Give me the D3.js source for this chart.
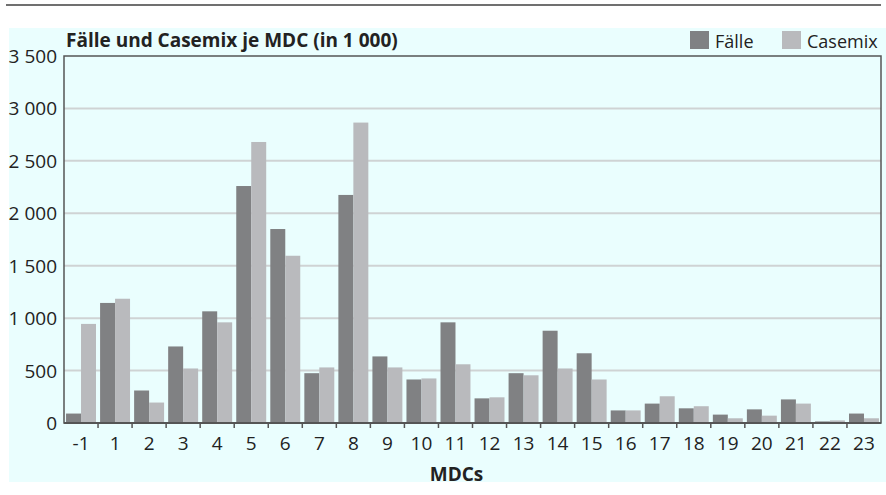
<!DOCTYPE html>
<html>
<head>
<meta charset="utf-8">
<script src="https://cdn.jsdelivr.net/npm/d3@7"></script>
<style>
  html, body { margin: 0; padding: 0; background: #ffffff; }
  svg { display: block; }
  text { font-family: "Open Sans", "Noto Sans", sans-serif; fill: #222; }
</style>
</head>
<body>
<svg id="chart" width="886" height="495"></svg>
<script>
const categories = ["-1","1","2","3","4","5","6","7","8","9","10","11","12","13","14","15","16","17","18","19","20","21","22","23"];
const faelle  = [90, 1145, 310, 730, 1065, 2260, 1850, 475, 2175, 635, 415, 960, 235, 475, 880, 665, 120, 185, 140, 80, 130, 225, 15, 90];
const casemix = [945, 1185, 195, 520, 960, 2680, 1595, 530, 2865, 530, 425, 560, 245, 455, 520, 415, 120, 255, 160, 45, 70, 185, 25, 45];
const seriesNames = ["Fälle", "Casemix"];
const yTicks = [0, 500, 1000, 1500, 2000, 2500, 3000, 3500];
const title = "Fälle und Casemix je MDC (in 1 000)";
const xTitle = "MDCs";

const colors = ["#808183", "#b9babd"];
const svg = d3.select("#chart");

// panel background
svg.append("rect").attr("x", 9).attr("y", 28).attr("width", 877).attr("height", 454).attr("fill", "#eafefe");
// top rule
svg.append("rect").attr("x", 6).attr("y", 4).attr("width", 875).attr("height", 2).attr("fill", "#707070");

const plot = { left: 64, right: 881, top: 56, bottom: 423 };

const x0 = d3.scaleBand().domain(categories).range([plot.left, plot.right]).paddingInner(0.12).paddingOuter(0.06);
const x1 = d3.scaleBand().domain(seriesNames).range([0, x0.bandwidth()]).padding(0);
const y = d3.scaleLinear().domain([0, 3500]).range([plot.bottom, plot.top]);

// gridlines
svg.append("g").selectAll("line").data(yTicks.filter(d => d > 0 && d < 3500)).join("line")
  .attr("x1", plot.left).attr("x2", plot.right)
  .attr("y1", d => y(d)).attr("y2", d => y(d))
  .attr("stroke", "#cfd3d4").attr("stroke-width", 2);

// bars
const data = categories.map((c, i) => ({ c, vals: [faelle[i], casemix[i]] }));
const g = svg.append("g");
data.forEach(d => {
  d.vals.forEach((v, j) => {
    g.append("rect")
      .attr("x", x0(d.c) + x1(seriesNames[j]))
      .attr("y", y(v))
      .attr("width", x1.bandwidth())
      .attr("height", y(0) - y(v))
      .attr("fill", colors[j]);
  });
});

// frame
svg.append("rect").attr("x", plot.left).attr("y", plot.top)
  .attr("width", plot.right - plot.left).attr("height", plot.bottom - plot.top)
  .attr("fill", "none").attr("stroke", "#555").attr("stroke-width", 1.5);
svg.append("line").attr("x1", plot.left).attr("x2", plot.right).attr("y1", plot.bottom).attr("y2", plot.bottom)
  .attr("stroke", "#555").attr("stroke-width", 2);

// y axis labels
const fmt = d => d3.format(",")(d).replace(/,/g, " ");
svg.append("g").selectAll("text").data(yTicks).join("text")
  .attr("x", 57).attr("y", d => y(d) + 7)
  .attr("text-anchor", "end").attr("font-size", 19)
  .text(fmt);

// x ticks at boundaries
const step = x0.step();
const bounds = categories.slice(1).map(c => x0(c) - x0.paddingInner() * step / 2);
svg.append("g").selectAll("line").data(bounds).join("line")
  .attr("x1", d => d).attr("x2", d => d)
  .attr("y1", plot.bottom).attr("y2", plot.bottom + 5)
  .attr("stroke", "#555").attr("stroke-width", 1.5);

svg.append("g").selectAll("text").data(categories).join("text")
  .attr("x", d => x0(d) + x0.bandwidth() / 2)
  .attr("y", 450)
  .attr("text-anchor", "middle").attr("font-size", 19)
  .text(d => d);

// x axis title
svg.append("text").attr("x", (plot.left + plot.right) / 2 - 16).attr("y", 480.5)
  .attr("text-anchor", "middle").attr("font-size", 19).attr("font-weight", "bold")
  .text(xTitle);

// title
svg.append("text").attr("x", 66).attr("y", 47)
  .attr("font-size", 19).attr("font-weight", "bold")
  .text(title);

// legend
const legX = [690, 782];
seriesNames.forEach((n, i) => {
  svg.append("rect").attr("x", legX[i]).attr("y", 31).attr("width", 19).attr("height", 18).attr("fill", colors[i]);
  svg.append("text").attr("x", legX[i] + 25).attr("y", 47.5).attr("font-size", 18).text(n);
});
</script>
</body>
</html>
